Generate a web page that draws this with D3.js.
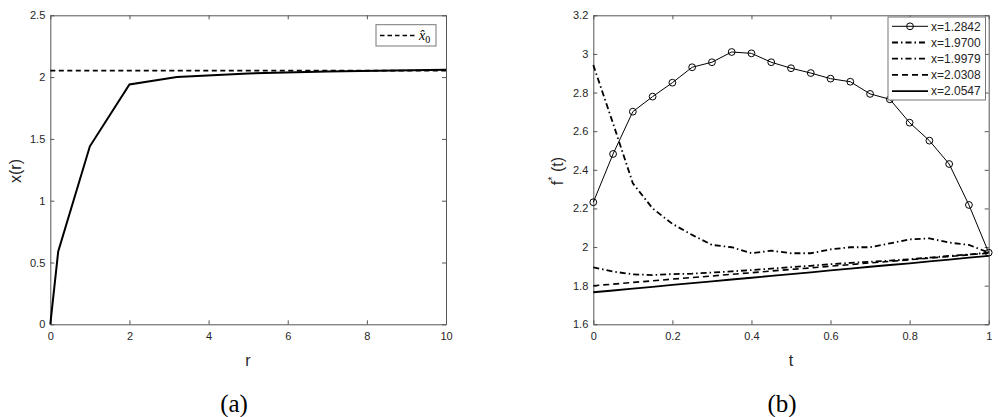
<!DOCTYPE html>
<html>
<head>
<meta charset="utf-8">
<script src="https://cdn.jsdelivr.net/npm/d3@7"></script>
<style>
  body { margin: 0; background: #fff; }
  svg { display: block; }
  .tick text { font-family: "Liberation Sans", Arial, sans-serif; font-size: 11px; fill: #262626; }
  .domain, .tick line { stroke: #555; }
</style>
</head>
<body>
<svg id="chart" width="999" height="417"></svg>
<script>
// panel (a) data
const rVals = [0, 0.2, 1, 2, 3.2, 5, 7, 10];
const xOfR = [0, 0.59, 1.44, 1.94, 2.0, 2.03, 2.045, 2.06];
const xHat0 = 2.052;
const aXTicks = [0, 2, 4, 6, 8, 10];
const aYTicks = [0, 0.5, 1, 1.5, 2, 2.5];

// panel (b) data
const tVals = [0, 0.05, 0.1, 0.15, 0.2, 0.25, 0.3, 0.35, 0.4, 0.45, 0.5, 0.55, 0.6, 0.65, 0.7, 0.75, 0.8, 0.85, 0.9, 0.95, 1];
const f12842 = [2.232, 2.482, 2.701, 2.779, 2.851, 2.931, 2.957, 3.010, 3.003, 2.957, 2.926, 2.901, 2.872, 2.856, 2.793, 2.765, 2.644, 2.551, 2.430, 2.218, 1.971];
const f19700 = [2.943, 2.64, 2.33, 2.20, 2.12, 2.063, 2.011, 1.999, 1.968, 1.981, 1.968, 1.968, 1.988, 1.999, 1.999, 2.019, 2.040, 2.045, 2.023, 2.011, 1.971];
const f19979 = [1.895, 1.873, 1.859, 1.855, 1.860, 1.862, 1.868, 1.874, 1.881, 1.888, 1.896, 1.903, 1.911, 1.918, 1.924, 1.930, 1.937, 1.945, 1.954, 1.962, 1.971];
const f20308 = [1.800, 1.808, 1.817, 1.825, 1.834, 1.842, 1.850, 1.859, 1.867, 1.876, 1.884, 1.892, 1.901, 1.909, 1.918, 1.926, 1.934, 1.943, 1.951, 1.960, 1.968];
const f20547 = [1.766, 1.775, 1.785, 1.794, 1.804, 1.813, 1.822, 1.832, 1.841, 1.851, 1.860, 1.869, 1.879, 1.888, 1.898, 1.907, 1.916, 1.926, 1.935, 1.945, 1.954];
const bLabels = ["x=1.2842", "x=1.9700", "x=1.9979", "x=2.0308", "x=2.0547"];
const bXTicks = [0, 0.2, 0.4, 0.6, 0.8, 1];
const bYTicks = [1.6, 1.8, 2, 2.2, 2.4, 2.6, 2.8, 3, 3.2];

const svg = d3.select("#chart");
const plotTop = 15.3, plotBottom = 324.3;
const fmt = d => String(d);

// draws box axes MATLAB style
function drawAxes(x, y, xt, yt) {
  const g = svg.append("g");
  const [x0, x1] = x.range();
  g.append("g").attr("transform", `translate(0,${plotBottom})`)
    .call(d3.axisBottom(x).tickValues(xt).tickFormat(fmt).tickSizeInner(-4).tickSizeOuter(0).tickPadding(8));
  g.append("g").attr("transform", `translate(0,${plotTop})`)
    .call(d3.axisTop(x).tickValues(xt).tickFormat("").tickSizeInner(-4).tickSizeOuter(0));
  g.append("g").attr("transform", `translate(${x0},0)`)
    .call(d3.axisLeft(y).tickValues(yt).tickFormat(fmt).tickSizeInner(-4).tickSizeOuter(0).tickPadding(5));
  g.append("g").attr("transform", `translate(${x1},0)`)
    .call(d3.axisRight(y).tickValues(yt).tickFormat("").tickSizeInner(-4).tickSizeOuter(0));
  return g;
}

// ---------- panel (a)
const xa = d3.scaleLinear().domain([0, 10]).range([50.3, 446]);
const ya = d3.scaleLinear().domain([0, 2.5]).range([plotBottom, plotTop]);
drawAxes(xa, ya, aXTicks, aYTicks);

svg.append("line")
  .attr("x1", xa(0)).attr("x2", xa(10)).attr("y1", ya(xHat0)).attr("y2", ya(xHat0))
  .attr("stroke", "#000").attr("stroke-width", 1.6).attr("stroke-dasharray", "5,3.5");

const lineA = d3.line().x((d, i) => xa(rVals[i])).y(d => ya(d));
svg.append("path").datum(xOfR).attr("d", lineA)
  .attr("fill", "none").attr("stroke", "#000").attr("stroke-width", 2);

// legend (a)
svg.append("rect").attr("x", 376).attr("y", 24.7).attr("width", 60).attr("height", 21.3)
  .attr("fill", "#fff").attr("stroke", "#777").attr("stroke-width", 1);
svg.append("line").attr("x1", 380).attr("x2", 417).attr("y1", 35.5).attr("y2", 35.5)
  .attr("stroke", "#000").attr("stroke-width", 1.6).attr("stroke-dasharray", "4.5,3");
const lt = svg.append("text").attr("x", 419).attr("y", 39.5)
  .attr("font-family", "Liberation Serif, serif").attr("font-size", 14);
lt.append("tspan").attr("font-style", "italic").text("x\u0302");
lt.append("tspan").attr("font-size", 10).attr("dy", 3).text("0");

// labels (a)
svg.append("text").attr("transform", "translate(21,171) rotate(-90)").attr("text-anchor", "middle")
  .attr("font-family", "Liberation Sans, Arial, sans-serif").attr("font-size", 16).attr("fill", "#262626").text("x(r)");
svg.append("text").attr("x", 248).attr("y", 366).attr("text-anchor", "middle")
  .attr("font-family", "Liberation Sans, Arial, sans-serif").attr("font-size", 16).attr("fill", "#262626").text("r");
svg.append("text").attr("x", 234).attr("y", 412).attr("text-anchor", "middle")
  .attr("font-family", "Liberation Serif, serif").attr("font-size", 25).attr("fill", "#000").text("(a)");

// ---------- panel (b)
const xb = d3.scaleLinear().domain([0, 1]).range([593.3, 988.7]);
const yb = d3.scaleLinear().domain([1.6, 3.2]).range([plotBottom, plotTop]);
drawAxes(xb, yb, bXTicks, bYTicks);

const lineB = d3.line().x((d, i) => xb(tVals[i])).y(d => yb(d));
const series = [
  { values: f12842, width: 1, dash: null, marker: true },
  { values: f19700, width: 1.8, dash: "6,3,1.5,3", marker: false },
  { values: f19979, width: 1.8, dash: "6,3,1.5,3", marker: false },
  { values: f20308, width: 1.6, dash: "6,4", marker: false },
  { values: f20547, width: 1.8, dash: null, marker: false }
];
series.slice().reverse().forEach(s => {
  svg.append("path").datum(s.values).attr("d", lineB)
    .attr("fill", "none").attr("stroke", "#000").attr("stroke-width", s.width)
    .attr("stroke-dasharray", s.dash);
});
svg.append("g").selectAll("circle").data(f12842).join("circle")
  .attr("cx", (d, i) => xb(tVals[i])).attr("cy", d => yb(d)).attr("r", 3.4)
  .attr("fill", "none").attr("stroke", "#000").attr("stroke-width", 1);

// legend (b)
const lg = svg.append("g");
lg.append("rect").attr("x", 888).attr("y", 17).attr("width", 97.5).attr("height", 83)
  .attr("fill", "#fff").attr("stroke", "#777").attr("stroke-width", 1);
series.forEach((s, i) => {
  const yy = 26.3 + i * 16.2;
  lg.append("line").attr("x1", 892).attr("x2", 928).attr("y1", yy).attr("y2", yy)
    .attr("stroke", "#000").attr("stroke-width", s.width).attr("stroke-dasharray", s.dash);
  if (s.marker) lg.append("circle").attr("cx", 910).attr("cy", yy).attr("r", 3.4)
    .attr("fill", "none").attr("stroke", "#000");
  lg.append("text").attr("x", 931).attr("y", yy + 4.2)
    .attr("font-family", "Liberation Sans, Arial, sans-serif").attr("font-size", 12).attr("fill", "#262626")
    .text(bLabels[i]);
});

// labels (b)
const fl = svg.append("text").attr("transform", "translate(563,171) rotate(-90)").attr("text-anchor", "middle")
  .attr("font-family", "Liberation Sans, Arial, sans-serif").attr("font-size", 16).attr("fill", "#262626");
fl.append("tspan").text("f");
fl.append("tspan").attr("font-size", 11).attr("dy", -7).text("*");
fl.append("tspan").attr("dy", 7).text(" (t)");
svg.append("text").attr("x", 791).attr("y", 366).attr("text-anchor", "middle")
  .attr("font-family", "Liberation Sans, Arial, sans-serif").attr("font-size", 16).attr("fill", "#262626").text("t");
svg.append("text").attr("x", 782).attr("y", 412).attr("text-anchor", "middle")
  .attr("font-family", "Liberation Serif, serif").attr("font-size", 25).attr("fill", "#000").text("(b)");
</script>
</body>
</html>
